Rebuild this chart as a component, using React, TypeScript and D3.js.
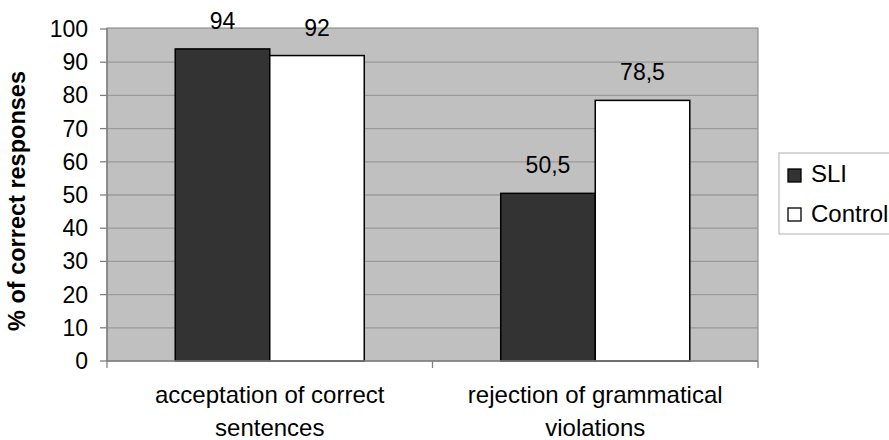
import * as d3 from 'd3';
import React from 'react';

const categories = [['acceptation of correct', 'sentences'], ['rejection of grammatical', 'violations']];
const seriesNames = ['SLI', 'Control'];
const seriesColors = ['#333333', '#ffffff'];
const sliValues = [94, 50.5];
const controlValues = [92, 78.5];
const valueLabels = [['94', '50,5'], ['92', '78,5']];
const yTicks = [0, 10, 20, 30, 40, 50, 60, 70, 80, 90, 100];

const font = '"Liberation Sans", Arial, sans-serif';

export default function App() {
  const w = 889;
  const h = 440;
  const left = 107;
  const right = 758;
  const top = 29;
  const bottom = 361;

  const xScale = d3
    .scaleBand<number>()
    .domain(d3.range(categories.length))
    .range([left, right])
    .padding(0);

  const inner = d3
    .scaleBand<number>()
    .domain(d3.range(seriesNames.length))
    .range([0, xScale.bandwidth()])
    .paddingInner(0)
    .paddingOuter(0.722);

  const yScale = d3.scaleLinear().domain([0, 100]).range([bottom, top]);

  const series = [sliValues, controlValues];

  const bars = [];
  const labels = [];
  for (let s = 0; s < series.length; s++) {
    for (let i = 0; i < categories.length; i++) {
      const x = (xScale(i) ?? 0) + (inner(s) ?? 0);
      const y = yScale(series[s][i]);
      bars.push(
        <rect
          key={`b${s}-${i}`}
          x={x}
          y={y}
          width={inner.bandwidth()}
          height={bottom - y}
          fill={seriesColors[s]}
          stroke='#000'
          strokeWidth={1.5}
        />
      );
      labels.push(
        <text key={`l${s}-${i}`} x={x + inner.bandwidth() / 2} y={y - 20} textAnchor='middle' fontSize={23}>
          {valueLabels[s][i]}
        </text>
      );
    }
  }

  return (
    <svg
      width={w}
      height={h}
      style={{ position: 'absolute', left: 0, top: 0, background: 'white', fontFamily: font }}>
      <rect x={left} y={top - 1} width={right - left} height={bottom - top + 1} fill='#c0c0c0' stroke='#808080' strokeWidth={1} />
      {yTicks.map((t) => (
        <g key={t}>
          {t > 0 && t < 100 && <line x1={left} x2={right} y1={yScale(t)} y2={yScale(t)} stroke='#9a9a9a' strokeWidth={1.3} />}
          <line x1={left - 7} x2={left} y1={yScale(t)} y2={yScale(t)} stroke='#808080' strokeWidth={1.3} />
          <text x={88} y={yScale(t) + 8} textAnchor='end' fontSize={23}>
            {t}
          </text>
        </g>
      ))}
      {bars}
      <line x1={left} x2={left} y1={top - 1} y2={bottom} stroke='#808080' strokeWidth={1.5} />
      <line x1={left} x2={right} y1={bottom} y2={bottom} stroke='#808080' strokeWidth={1.5} />
      {[...xScale.domain(), categories.length].map((i) => {
        const x = i < categories.length ? xScale(i) ?? 0 : right;
        return <line key={i} x1={x} x2={x} y1={bottom} y2={bottom + 7} stroke='#808080' strokeWidth={1.3} />;
      })}
      {labels}
      {categories.map((lines, i) => (
        <text key={i} x={(xScale(i) ?? 0) + xScale.bandwidth() / 2} textAnchor='middle' fontSize={24}>
          {lines.map((ln, j) => (
            <tspan key={j} x={(xScale(i) ?? 0) + xScale.bandwidth() / 2} y={403 + j * 33}>
              {ln}
            </tspan>
          ))}
        </text>
      ))}
      <text transform='rotate(-90)' x={-201} y={25} textAnchor='middle' fontSize={23.5} fontWeight='bold'>
        % of correct responses
      </text>
      <rect x={779} y={153} width={120} height={81} fill='white' stroke='#b0b0b0' strokeWidth={1} />
      {seriesNames.map((name, i) => (
        <g key={name}>
          <rect x={788} y={169 + i * 39} width={13} height={13} fill={seriesColors[i]} stroke='#000' strokeWidth={1.3} />
          <text x={811} y={182 + i * 40} fontSize={24}>
            {name}
          </text>
        </g>
      ))}
    </svg>
  );
}
